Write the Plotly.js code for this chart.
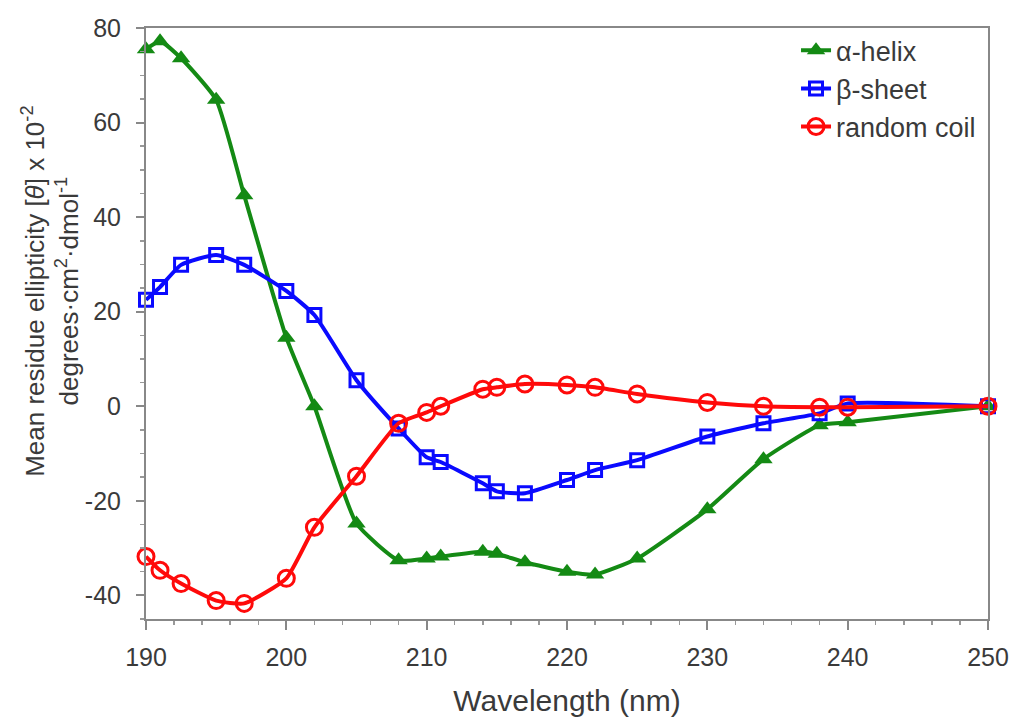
<!DOCTYPE html>
<html>
<head>
<meta charset="utf-8">
<script src="https://cdn.plot.ly/plotly-3.0.1.min.js"></script>
<style>
html,body{margin:0;padding:0;background:#fff;}
#chart{width:1015px;height:717px;}
</style>
</head>
<body>
<div id="chart"></div>
<script>
// Wavelength (nm)
const helixX = [190, 191, 192.5, 195, 197, 200, 202, 205, 208, 210, 211, 214, 215, 217, 220, 222, 225, 230, 234, 238, 240, 250];
const helixY = [75.5, 77.2, 73.6, 64.8, 44.6, 14.5, 0, -24.8, -32.6, -32.2, -31.8, -30.8, -31.2, -33.0, -35.0, -35.6, -32.2, -21.8, -11.2, -4.0, -3.4, 0];

const sheetX = [190, 191, 192.5, 195, 197, 200, 202, 205, 208, 210, 211, 214, 215, 217, 220, 222, 225, 230, 234, 238, 240, 250];
const sheetY = [22.5, 25.2, 29.9, 32.0, 29.9, 24.4, 19.3, 5.5, -4.7, -10.8, -11.8, -16.3, -18.0, -18.4, -15.6, -13.5, -11.4, -6.4, -3.6, -1.5, 0.6, 0];

const coilX = [190, 191, 192.5, 195, 197, 200, 202, 205, 208, 210, 211, 214, 215, 217, 220, 222, 225, 230, 234, 238, 240, 250];
const coilY = [-31.8, -34.7, -37.5, -41.1, -41.7, -36.4, -25.6, -14.8, -3.6, -1.3, 0, 3.6, 4.0, 4.7, 4.5, 4.0, 2.6, 0.8, 0, -0.2, -0.2, 0];

const seriesNames = ['α-helix', 'β-sheet', 'random coil'];
const xTickVals = [190, 200, 210, 220, 230, 240, 250];
const yTickVals = [-40, -20, 0, 20, 40, 60, 80];
const xTitle = 'Wavelength (nm)';
const yTitle = 'Mean residue ellipticity [<i>θ</i>] x 10<sup>-2</sup><br>degrees·cm<sup>2</sup>·dmol<sup>-1</sup>';

const FONT = 'Liberation Sans, Arial, sans-serif';

const traces = [
  {
    x: helixX, y: helixY, name: seriesNames[0], type: 'scatter', mode: 'lines+markers',
    cliponaxis: false,
    line: {color: '#148a14', width: 4, shape: 'spline', smoothing: 0.5},
    marker: {symbol: 'triangle-up', size: 16, color: '#148a14'}
  },
  {
    x: sheetX, y: sheetY, name: seriesNames[1], type: 'scatter', mode: 'lines+markers',
    cliponaxis: false,
    line: {color: '#0a0aff', width: 4, shape: 'spline', smoothing: 0.5},
    marker: {symbol: 'square-open', size: 13, color: '#0a0aff', line: {width: 3, color: '#0a0aff'}}
  },
  {
    x: coilX, y: coilY, name: seriesNames[2], type: 'scatter', mode: 'lines+markers',
    cliponaxis: false,
    line: {color: '#ff0a0a', width: 4, shape: 'spline', smoothing: 0.5},
    marker: {symbol: 'circle-open', size: 16, color: '#ff0a0a', line: {width: 3, color: '#ff0a0a'}}
  }
];

const layout = {
  width: 1015, height: 717,
  margin: {l: 146, r: 27, t: 28, b: 98},
  paper_bgcolor: '#ffffff', plot_bgcolor: '#ffffff',
  font: {family: FONT, color: '#3a3a3a', size: 24},
  showlegend: true,
  legend: {
    x: 0.772, y: 1.003, xanchor: 'left', yanchor: 'top',
    bgcolor: 'rgba(0,0,0,0)', borderwidth: 0,
    font: {family: FONT, size: 27, color: '#3a3a3a'},
    tracegroupgap: 0, itemwidth: 30
  },
  xaxis: {
    range: [190, 250], tickvals: xTickVals, ticktext: xTickVals.map(String),
    showgrid: false, zeroline: false,
    showline: true, linecolor: '#888888', linewidth: 2, mirror: true,
    ticks: 'outside', ticklen: 9, tickwidth: 2, tickcolor: '#888888',
    minor: {dtick: 2, tick0: 190, ticks: 'outside', ticklen: 4, tickwidth: 1.5, tickcolor: '#999999'},
    tickfont: {family: FONT, size: 25, color: '#3a3a3a'},
    ticklabelstandoff: 6,
    title: {text: xTitle, font: {family: FONT, size: 30, color: '#3a3a3a'}, standoff: 36}
  },
  yaxis: {
    range: [-45, 80], tickvals: yTickVals, ticktext: yTickVals.map(String),
    showgrid: false, zeroline: false,
    showline: true, linecolor: '#888888', linewidth: 2, mirror: true,
    ticks: 'outside', ticklen: 8, tickwidth: 2, tickcolor: '#888888',
    minor: {dtick: 5, tick0: 0, ticks: 'outside', ticklen: 4, tickwidth: 1.5, tickcolor: '#999999'},
    tickfont: {family: FONT, size: 25, color: '#3a3a3a'},
    ticklabelstandoff: 10
  },
  annotations: [
    {
      text: yTitle, textangle: -90, showarrow: false,
      xref: 'paper', yref: 'paper', x: -0.113, y: 0.555,
      xanchor: 'center', yanchor: 'middle',
      font: {family: FONT, size: 26, color: '#3a3a3a'}
    }
  ]
};

Plotly.newPlot('chart', traces, layout, {displayModeBar: false, staticPlot: true});
</script>
</body>
</html>
